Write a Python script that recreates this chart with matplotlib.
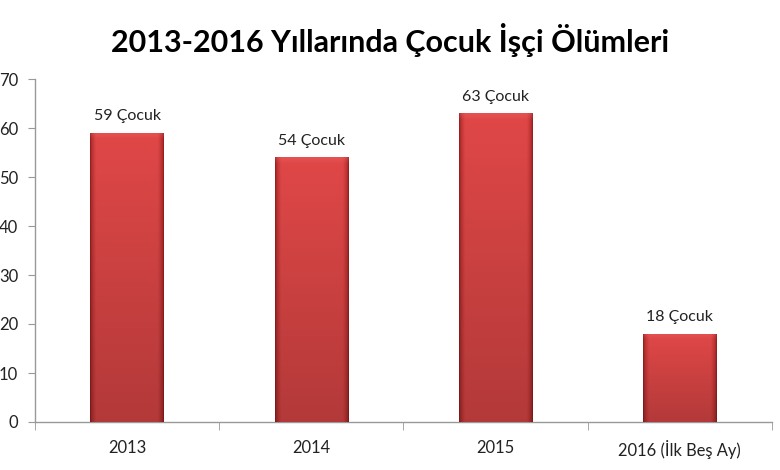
import numpy as np
import matplotlib
matplotlib.use("Agg")
import matplotlib.pyplot as plt

categories = ["2013", "2014", "2015", "2016 (İlk Beş Ay)"]
values = [59, 54, 63, 18]
bar_labels = ["59 Çocuk", "54 Çocuk", "63 Çocuk", "18 Çocuk"]
title = "2013-2016 Yıllarında Çocuk İşçi Ölümleri"
yticks = [0, 10, 20, 30, 40, 50, 60, 70]

plt.rcParams['font.family'] = ['Lato', 'DejaVu Sans']

fig = plt.figure(figsize=(7.8, 4.7), dpi=100)
ax = fig.add_axes([35/780, 48/470, (772-35)/780, (422-79)/470])

x = np.arange(len(categories))
width = 0.4
bars = ax.bar(x, values, width=width, color="#d43c3c", edgecolor="none", zorder=2)

# gradient fill for a bevelled look
nx, ny = 80, 200
u = np.linspace(0, 1, nx)
v = np.linspace(0, 1, ny)[:, None]
edge = np.minimum(u, 1 - u)
hprof = np.clip(edge / 0.08, 0, 1) ** 0.6
light = np.array([0.88, 0.28, 0.28])
dark = np.array([0.60, 0.12, 0.12])
for rect in bars:
    h = rect.get_height()
    x0 = rect.get_x()
    w = rect.get_width()
    vfac = 0.80 + 0.20 * v
    base = dark[None, None, :] + (light - dark)[None, None, :] * hprof[None, :, None]
    img = base * vfac[:, :, None]
    top_px = 6.0 / (h * (343 / 70))
    topmask = np.clip((v - (1 - top_px)) / top_px, 0, 1)
    img = img * (1 - 0.25 * topmask[:, :, None]) + np.array([0.95, 0.45, 0.45]) * 0.25 * topmask[:, :, None]
    img = np.clip(img, 0, 1)
    im = ax.imshow(img, extent=[x0, x0 + w, 0, h], origin="lower",
                   aspect="auto", zorder=3, interpolation="bilinear")
    im.set_clip_path(rect)

for xi, val, lab in zip(x, values, bar_labels):
    ax.annotate(lab, (xi, val), xytext=(0, 7), textcoords="offset points",
                ha="center", va="bottom", fontsize=11.5, color="#222222")

ax.set_xlim(-0.5, len(categories) - 0.5)
ax.set_ylim(0, 70)
ax.set_yticks(yticks)
ax.set_xticks(x)
ax.set_xticklabels(categories)
ax.set_xticks(np.arange(-0.5, len(categories)), minor=True)
ax.tick_params(axis="x", which="major", length=0, pad=13, labelsize=11.9, labelcolor="#222222")
ax.tick_params(axis="x", which="minor", length=6, color="#999999", direction="out")
ax.tick_params(axis="y", length=5, color="#999999", pad=7, labelsize=12, labelcolor="#222222")
for s in ["top", "right"]:
    ax.spines[s].set_visible(False)
for s in ["left", "bottom"]:
    ax.spines[s].set_color("#999999")
    ax.spines[s].set_linewidth(1.0)

fig.text(0.5, 1 - 40/470, title, ha="center", va="center", fontsize=22,
         fontweight="bold", color="#000000")

fig.savefig("out.png", dpi=100)
